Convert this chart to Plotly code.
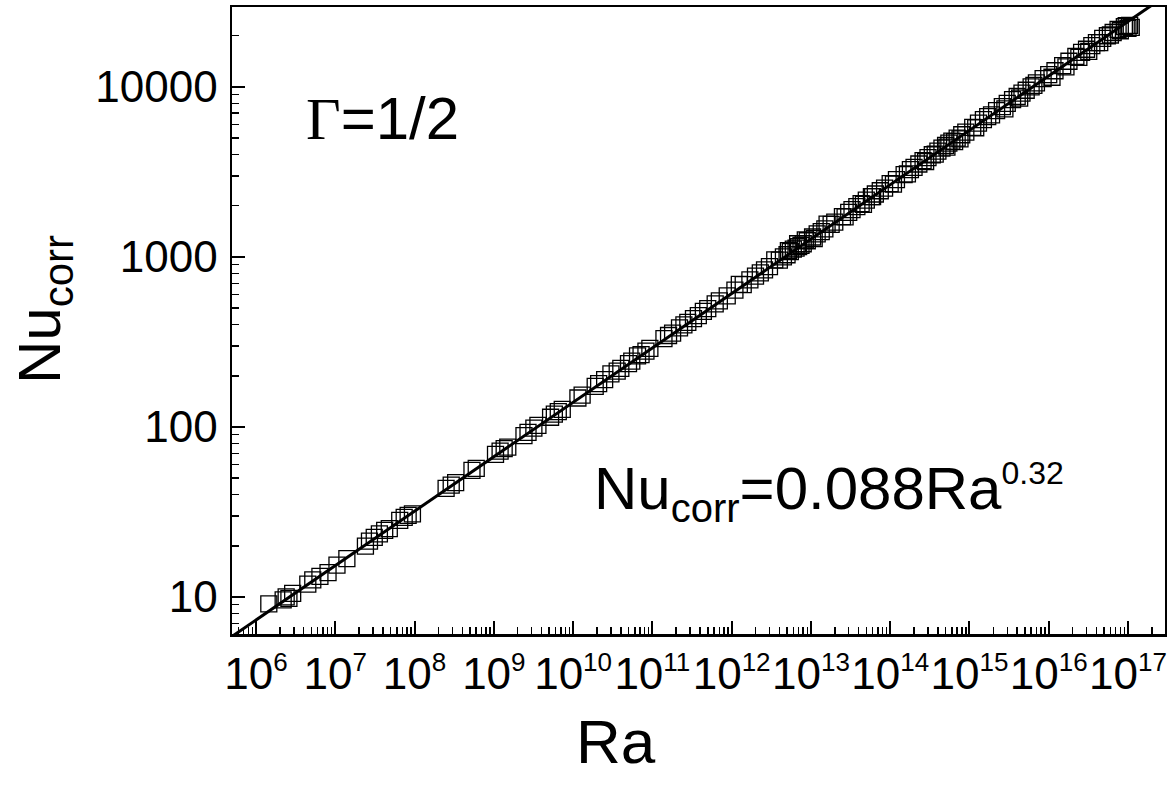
import plotly.graph_objects as go

# ---- data ----
ra = [
    1.45e6, 2.2e6, 2.4e6, 2.6e6, 2.9e6, 4.5e6, 5.2e6, 6.4e6, 8.1e6,
    1.05e7, 1.4e7, 2.4e7, 2.7e7, 3.1e7, 3.6e7, 4.2e7, 4.8e7, 6.5e7, 7.4e7, 8.3e7, 9.4e7,
    2.5e8, 2.9e8, 3.3e8, 5.3e8, 6.0e8,
    1.05e9, 1.2e9, 1.35e9, 1.5e9, 2.4e9, 2.7e9, 3.2e9, 3.6e9, 5.2e9, 5.8e9, 6.5e9, 7.3e9,
    1.15e10, 1.3e10, 1.9e10, 2.1e10, 2.5e10, 3.6e10, 4.0e10, 5.0e10, 5.5e10, 7.2e10, 8.3e10, 9.3e10,
    1.4e11, 1.6e11, 1.8e11, 2.5e11, 2.8e11, 3.3e11, 3.8e11, 5.0e11, 6.2e11, 7.0e11, 8.8e11,
    1.1e12, 1.4e12, 1.7e12, 2.3e12, 2.6e12, 3.0e12, 4.0e12, 4.5e12, 5.0e12, 5.5e12, 6.0e12,
    6.5e12, 7.0e12, 7.5e12, 8.0e12, 9.0e12,
    1.05e13, 1.2e13, 1.35e13, 1.5e13, 1.8e13, 2.0e13, 2.5e13, 3.0e13, 3.3e13, 3.8e13, 4.3e13,
    5.0e13, 5.8e13, 6.5e13, 7.5e13, 8.5e13,
    1.0e14, 1.2e14, 1.5e14, 1.8e14, 2.0e14, 2.3e14, 2.6e14, 3.0e14, 3.4e14, 4.0e14, 4.5e14,
    5.0e14, 5.5e14, 6.0e14, 7.0e14, 8.0e14, 9.0e14,
    1.1e15, 1.3e15, 1.5e15, 1.7e15, 2.2e15, 2.6e15, 3.0e15, 3.5e15, 4.0e15, 4.6e15, 5.2e15,
    6.0e15, 7.0e15, 8.5e15,
    1.0e16, 1.2e16, 1.5e16, 1.8e16, 2.2e16, 2.6e16, 3.0e16, 3.5e16, 4.0e16, 4.8e16, 5.5e16,
    6.5e16, 7.5e16, 9.0e16, 1.0e17, 1.05e17, 1.1e17,
    # second band of points (slightly off the line)
    3.0e10, 6.5e10, 2.2e11, 4.4e11, 1.25e12, 2.0e12, 3.5e12, 5.2e12, 6.8e12, 8.5e12,
    1.1e13, 1.6e13, 2.7e13, 4.6e13, 6.0e13, 1.1e14, 1.65e14, 2.8e14, 3.7e14, 5.2e14,
    6.5e14, 7.6e14, 1.2e15, 1.9e15, 2.8e15, 4.3e15, 6.5e15, 1.1e16, 1.65e16, 2.4e16,
    3.2e16, 4.4e16, 6.0e16, 8.0e16, 9.5e16,
]
nu = [
    9.1, 9.6, 10.0, 9.8, 10.5, 11.9, 12.6, 13.2, 13.9,
    15.4, 16.8, 19.9, 21.3, 22.4, 23.5, 24.6, 25.2, 28.2, 29.4, 30.2, 30.8,
    43.5, 45.5, 47.0, 55.5, 57.0,
    69, 72, 74.5, 76, 89, 93, 98.5, 102, 114, 119, 123, 127,
    148, 154, 173, 180, 190, 213, 221, 236, 244, 266, 279, 290,
    331, 345, 356, 398, 412, 434, 452, 496, 530, 551, 590,
    637, 688, 732, 805, 838, 876, 958, 1000, 1030, 1075, 1110,
    1125, 1150, 1170, 1195, 1245,
    1310, 1365, 1410, 1460, 1555, 1600, 1725, 1830, 1895, 1975, 2060,
    2160, 2260, 2345, 2450, 2540,
    2700, 2850, 3050, 3260, 3360, 3520, 3680, 3840, 3990, 4190, 4370,
    4530, 4670, 4800, 5000, 5230, 5420,
    5780, 6120, 6420, 6690, 7260, 7650, 8000, 8420, 8780, 9200, 9560,
    10000, 10550, 11200,
    11800, 12450, 13350, 14150, 15100, 15950, 16650, 17500, 18200, 19300, 20000,
    20900, 21800, 22600, 22100, 23000, 22400,
    # second band
    205, 262, 383, 478, 690, 770, 960, 1090, 1195, 1260,
    1280, 1560, 1720, 2040, 2260, 2680, 3080, 3640, 4020, 4420,
    4760, 4950, 5750, 6840, 7430, 8580, 10200, 11400, 13100, 14900,
    16200, 18200, 20200, 21400, 22900,
]

fit_coef = 0.088
fit_exp = 0.32
fit_ra = [4e5, 3e17]
fit_nu = [fit_coef * r ** fit_exp for r in fit_ra]

x_ticks = [10 ** k for k in range(6, 18)]
x_ticktext = ["10<sup><span style='font-size:26px'>%d</span></sup>" % k for k in range(6, 18)]
y_ticks = [10, 100, 1000, 10000]
y_ticktext = ["10", "100", "1000", "10000"]

FONT = "Liberation Sans, Arial, sans-serif"

x_minor = [m * 10 ** k for k in range(5, 18) for m in range(2, 10)]
y_minor = [m * 10 ** k for k in range(0, 5) for m in range(2, 10)]

XR = [5.697, 17.467]
YR = [0.782, 4.47]

fig = go.Figure()
fig.add_trace(go.Scatter(
    x=ra, y=nu, mode="markers",
    marker=dict(symbol="square-open", size=16, color="black", line=dict(width=1.3, color="black")),
    showlegend=False, hoverinfo="skip",
))
fig.add_trace(go.Scatter(
    x=fit_ra, y=fit_nu, mode="lines",
    line=dict(color="black", width=3),
    showlegend=False, hoverinfo="skip",
))

fig.update_layout(
    width=1167, height=785,
    margin=dict(l=232, r=2, t=7, b=151),
    paper_bgcolor="white", plot_bgcolor="white",
    font=dict(family=FONT, color="black"),
    xaxis=dict(
        type="log", range=XR, showgrid=False, zeroline=False, automargin=False,
        showline=True, linecolor="black", linewidth=2.5, mirror=True,
        ticks="inside", ticklen=13, tickwidth=2, tickcolor="black",
        tickvals=x_ticks, ticktext=x_ticktext, tickangle=0,
        tickfont=dict(size=44, family=FONT, color="black"),
        ticklabelstandoff=0, ticklabeloverflow="allow",
        minor=dict(tickvals=x_minor, ticks="inside", ticklen=7, tickwidth=1.5, tickcolor="black", showgrid=False),
    ),
    xaxis2=dict(
        type="log", range=XR, overlaying="x", side="top", anchor="y", automargin=False,
        showgrid=False, zeroline=False, showline=False,
        ticks="inside", ticklen=5, tickwidth=2, tickcolor="black",
        tickvals=x_ticks, showticklabels=False,
        minor=dict(tickvals=x_minor, ticks="inside", ticklen=3, tickwidth=1.5, tickcolor="black", showgrid=False),
    ),
    yaxis=dict(
        type="log", range=YR, showgrid=False, zeroline=False, automargin=False,
        showline=True, linecolor="black", linewidth=2.5, mirror=True,
        ticks="inside", ticklen=13, tickwidth=2, tickcolor="black",
        tickvals=y_ticks, ticktext=y_ticktext,
        tickfont=dict(size=44, family=FONT, color="black"),
        ticklabelstandoff=3,
        minor=dict(tickvals=y_minor, ticks="inside", ticklen=7, tickwidth=1.5, tickcolor="black", showgrid=False),
    ),
)

def px(xp):
    return (xp - 232) / 933.0

def py(yp):
    return (634 - yp) / 627.0

fig.add_annotation(
    text="Nu<sub>corr</sub>", textangle=-90, xref="paper", yref="paper",
    x=px(44), y=py(310), xanchor="center", yanchor="middle", showarrow=False,
    font=dict(size=60, family=FONT, color="black"),
)
fig.add_annotation(
    text="Ra", xref="paper", yref="paper",
    x=px(616), y=py(741), xanchor="center", yanchor="middle", showarrow=False,
    font=dict(size=62, family=FONT, color="black"),
)
fig.add_annotation(
    text="<span style='font-family:Liberation Serif, Times New Roman, serif'>Γ</span>=1/2",
    xref="paper", yref="paper",
    x=px(304), y=py(119), xanchor="left", yanchor="middle", showarrow=False,
    font=dict(size=60, family=FONT, color="black"),
)
fig.add_annotation(
    text="Nu<sub><span style='font-size:40px'>corr</span></sub>=0.088Ra<sup><span style='font-size:32px'>0.32</span></sup>",
    xref="paper", yref="paper",
    x=px(592), y=py(492), xanchor="left", yanchor="middle", showarrow=False,
    font=dict(size=60, family=FONT, color="black"),
)

fig.write_html(
    "out.html",
    config={"displayModeBar": False, "staticPlot": True},
    post_script="document.body.style.margin='0';document.body.style.padding='0';",
)
